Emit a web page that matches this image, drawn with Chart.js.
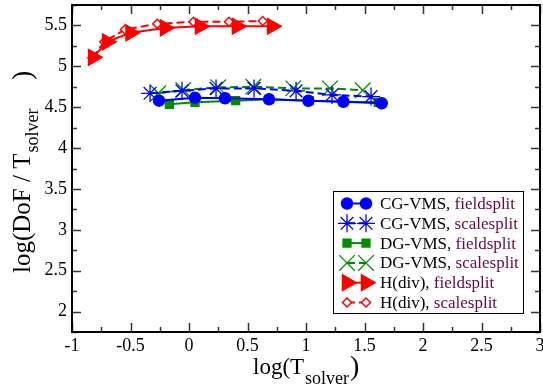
<!DOCTYPE html>
<html>
<head>
<meta charset="utf-8">
<script src="https://cdn.jsdelivr.net/npm/chart.js@4/dist/chart.umd.min.js"></script>
<style>
  html, body { margin: 0; padding: 0; background: #fff; }
  #wrap { width: 543px; height: 389px; position: relative; }
</style>
</head>
<body>
<div id="wrap"><canvas id="c"></canvas></div>
<script>
const xTicks = [-1, -0.5, 0, 0.5, 1, 1.5, 2, 2.5, 3];
const yTicks = [2, 2.5, 3, 3.5, 4, 4.5, 5, 5.5];

const cgFieldX = [-0.256, 0.051, 0.308, 0.684, 1.02, 1.32, 1.647];
const cgFieldY = [4.58, 4.616, 4.609, 4.596, 4.579, 4.567, 4.548];
const cgScaleX = [-0.333, -0.06, 0.231, 0.556, 0.915, 1.222, 1.556];
const cgScaleY = [4.67, 4.70, 4.73, 4.73, 4.70, 4.65, 4.63];
const dgFieldX = [-0.168, 0.051, 0.399, 0.686, 1.028, 1.319, 1.618];
const dgFieldY = [4.535, 4.56, 4.579, 4.596, 4.579, 4.567, 4.56];
const dgScaleX = [-0.262, -0.049, 0.25, 0.55, 0.891, 1.205, 1.485];
const dgScaleY = [4.67, 4.71, 4.743, 4.75, 4.73, 4.73, 4.707];
const hdivFieldX = [-0.82, -0.70, -0.50, -0.205, 0.094, 0.41, 0.71];
const hdivFieldY = [5.11, 5.30, 5.41, 5.47, 5.49, 5.49, 5.49];
const hdivScaleX = [-0.826, -0.724, -0.547, -0.271, 0.037, 0.342, 0.63];
const hdivScaleY = [5.105, 5.30, 5.45, 5.52, 5.545, 5.545, 5.554];

const legendNames = ['CG-VMS, ', 'CG-VMS, ', 'DG-VMS, ', 'DG-VMS, ', 'H(div), ', 'H(div), '];
const legendSolvers = ['fieldsplit', 'scalesplit', 'fieldsplit', 'scalesplit', 'fieldsplit', 'scalesplit'];

const BLUE = '#0000ff';
const GREEN = '#008c00';
const RED = '#ff0000';
const MAROON = '#670748';
const SERIF = '"Liberation Serif", "DejaVu Serif", serif';

Chart.defaults.font.family = SERIF;

function pts(xs, ys) {
  return xs.map((x, i) => ({ x: x, y: ys[i] }));
}

function series(xs, ys, color, style, radius, dashed, fill, rotation) {
  return {
    data: pts(xs, ys),
    borderColor: color,
    backgroundColor: fill,
    borderWidth: 2,
    borderDash: dashed ? [8, 4] : [],
    pointStyle: style,
    pointRadius: radius,
    pointRotation: rotation || 0,
    pointBorderColor: color,
    pointBackgroundColor: fill,
    pointBorderWidth: style === 'star' || style === 'crossRot' ? 1.3 : 1.5,
    showLine: true,
    tension: 0,
    fill: false,
  };
}

const datasets = [
  series(cgFieldX, cgFieldY, BLUE, 'circle', 5.5, false, BLUE),
  series(cgScaleX, cgScaleY, BLUE, 'star', 9, true, BLUE),
  series(dgFieldX, dgFieldY, GREEN, 'rect', 5.5, false, GREEN),
  series(dgScaleX, dgScaleY, GREEN, 'crossRot', 11, true, GREEN),
  series(hdivFieldX, hdivFieldY, RED, 'triangle', 9, false, RED, 90),
  series(hdivScaleX, hdivScaleY, RED, 'rectRot', 4.5, true, '#ffffff'),
];

// own marker drawing for the legend samples
function drawMarker(ctx, ds, x, y) {
  const r = ds.pointRadius;
  ctx.save();
  ctx.setLineDash([]);
  ctx.lineWidth = ds.pointBorderWidth;
  ctx.strokeStyle = ds.pointBorderColor;
  ctx.fillStyle = ds.pointBackgroundColor;
  ctx.beginPath();
  if (ds.pointStyle === 'circle') {
    ctx.arc(x, y, r, 0, Math.PI * 2);
    ctx.fill(); ctx.stroke();
  } else if (ds.pointStyle === 'rect') {
    const s = r * Math.SQRT1_2;
    ctx.rect(x - s, y - s, 2 * s, 2 * s);
    ctx.fill(); ctx.stroke();
  } else if (ds.pointStyle === 'rectRot') {
    ctx.moveTo(x, y - r); ctx.lineTo(x + r, y); ctx.lineTo(x, y + r); ctx.lineTo(x - r, y); ctx.closePath();
    ctx.fill(); ctx.stroke();
  } else if (ds.pointStyle === 'triangle') {
    ctx.moveTo(x + r, y); ctx.lineTo(x - r * 0.5, y - r * 0.866); ctx.lineTo(x - r * 0.5, y + r * 0.866); ctx.closePath();
    ctx.fill(); ctx.stroke();
  } else if (ds.pointStyle === 'star') {
    for (let k = 0; k < 4; k++) {
      const a = k * Math.PI / 4;
      ctx.moveTo(x - Math.cos(a) * r, y - Math.sin(a) * r);
      ctx.lineTo(x + Math.cos(a) * r, y + Math.sin(a) * r);
    }
    ctx.stroke();
  } else if (ds.pointStyle === 'crossRot') {
    const d = r * Math.SQRT1_2;
    ctx.moveTo(x - d, y - d); ctx.lineTo(x + d, y + d);
    ctx.moveTo(x - d, y + d); ctx.lineTo(x + d, y - d);
    ctx.stroke();
  }
  ctx.restore();
}

const framePlugin = {
  id: 'frame',
  afterDraw(chart) {
    const ctx = chart.ctx;
    const a = chart.chartArea;
    const xs = chart.scales.x, ys = chart.scales.y;
    ctx.save();

    // tick marks, inward on all four sides
    ctx.strokeStyle = '#333';
    ctx.lineWidth = 1.5;
    ctx.beginPath();
    for (let v = -1; v <= 3.001; v += 0.25) {
      const px = Math.round(xs.getPixelForValue(v)) + 0.5;
      const len = Math.abs(v * 2 - Math.round(v * 2)) < 1e-6 ? 9 : 5;
      ctx.moveTo(px, a.bottom); ctx.lineTo(px, a.bottom - len);
      ctx.moveTo(px, a.top); ctx.lineTo(px, a.top + len);
    }
    for (let v = 1.75; v <= 5.751; v += 0.25) {
      const py = Math.round(ys.getPixelForValue(v)) + 0.5;
      const len = Math.abs(v * 2 - Math.round(v * 2)) < 1e-6 ? 9 : 5;
      ctx.moveTo(a.left, py); ctx.lineTo(a.left + len, py);
      ctx.moveTo(a.right, py); ctx.lineTo(a.right - len, py);
    }
    ctx.stroke();

    // frame
    ctx.strokeStyle = '#000';
    ctx.lineWidth = 2;
    ctx.strokeRect(a.left, a.top, a.right - a.left, a.bottom - a.top);

    // axis titles with subscripts
    ctx.fillStyle = '#000';
    ctx.textBaseline = 'alphabetic';
    ctx.textAlign = 'left';
    const big = '23px ' + SERIF, small = '18px ' + SERIF, paren = '28px ' + SERIF;
    ctx.font = big;
    ctx.fillText('log(T', 253, 374);
    const wT = ctx.measureText('log(T').width;
    ctx.font = small;
    ctx.fillText('solver', 253 + wT + 1, 384);
    const wS = ctx.measureText('solver').width;
    ctx.font = paren;
    ctx.fillText(')', 253 + wT + wS + 2, 375);

    ctx.save();
    ctx.translate(30, 0);
    ctx.rotate(-Math.PI / 2);
    // rotated frame: x' = -pageY, y' = pageX - 30
    ctx.font = '25px ' + SERIF;
    ctx.fillText('log(DoF / T', -273, 0);
    const wY = ctx.measureText('log(DoF / T').width;
    ctx.font = small;
    ctx.fillText('solver', -273 + wY + 1, 8);
    ctx.font = paren;
    ctx.fillText(')', -80, 1);
    ctx.restore();

    // legend box
    const lx = 333, ly = 191, lw = 190, lh = 122;
    ctx.fillStyle = '#fff';
    ctx.fillRect(lx, ly, lw, lh);
    ctx.strokeStyle = '#000';
    ctx.lineWidth = 1;
    ctx.strokeRect(lx + 0.5, ly + 0.5, lw, lh);
    ctx.font = '17px ' + SERIF;
    ctx.textBaseline = 'middle';
    chart.data.datasets.forEach((ds, i) => {
      const y = 203.5 + i * 19.8;
      ctx.save();
      ctx.strokeStyle = ds.borderColor;
      ctx.lineWidth = 2;
      ctx.setLineDash(ds.borderDash);
      ctx.beginPath();
      ctx.moveTo(347, y); ctx.lineTo(366, y);
      ctx.stroke();
      ctx.restore();
      drawMarker(ctx, ds, 347, y);
      drawMarker(ctx, ds, 366, y);
      ctx.fillStyle = '#000';
      ctx.fillText(legendNames[i], 380, y + 1);
      const nw = ctx.measureText(legendNames[i]).width;
      ctx.fillStyle = MAROON;
      ctx.fillText(legendSolvers[i], 380 + nw, y + 1);
    });
    ctx.restore();
  }
};

new Chart(document.getElementById('c'), {
  type: 'scatter',
  data: { datasets: datasets },
  options: {
    responsive: true,
    maintainAspectRatio: false,
    animation: false,
    layout: { autoPadding: false, padding: { top: 5, right: 3, left: 0, bottom: 0 } },
    plugins: {
      legend: { display: false },
      tooltip: { enabled: false },
    },
    scales: {
      x: {
        type: 'linear',
        min: -1,
        max: 3,
        afterBuildTicks: s => { s.ticks = xTicks.map(v => ({ value: v })); },
        afterFit: s => { s.height = 57; s.paddingLeft = 0; s.paddingRight = 0; },
        grid: { display: false, drawTicks: false },
        border: { display: false },
        ticks: {
          color: '#000',
          padding: 3,
          maxRotation: 0,
          font: { family: SERIF, size: 18 },
          callback: v => String(v),
        },
      },
      y: {
        type: 'linear',
        min: 1.75,
        max: 5.75,
        afterBuildTicks: s => { s.ticks = yTicks.map(v => ({ value: v })); },
        afterFit: s => { s.width = 72; s.paddingTop = 0; s.paddingBottom = 0; },
        grid: { display: false, drawTicks: false },
        border: { display: false },
        ticks: {
          color: '#000',
          padding: 5,
          font: { family: SERIF, size: 18 },
          callback: v => String(v),
        },
      },
    },
  },
  plugins: [framePlugin],
});
</script>
</body>
</html>
